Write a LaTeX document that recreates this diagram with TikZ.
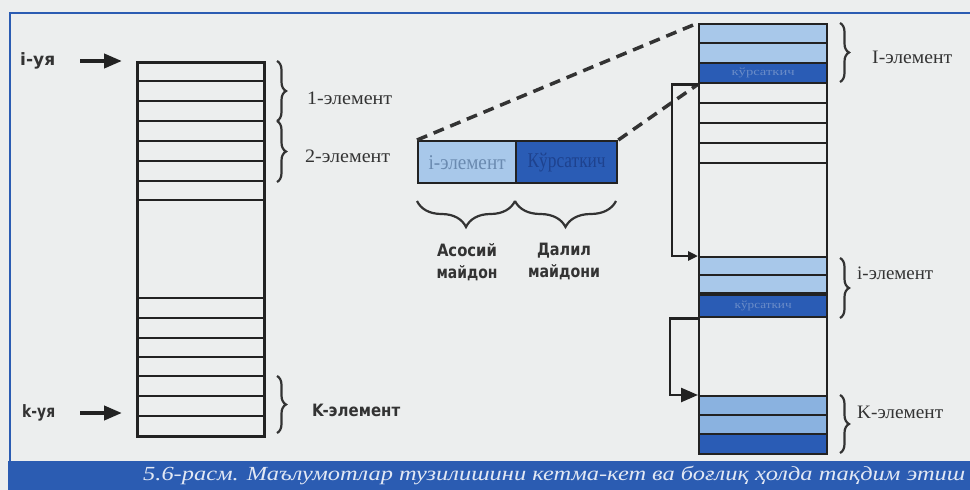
\documentclass[tikz,border=0pt]{standalone}
\usepackage{fontspec}
\setmainfont{Liberation Serif}
\newfontfamily\dvs{DejaVu Sans}
\usetikzlibrary{arrows.meta,decorations.pathreplacing,calc}
\definecolor{bg}{HTML}{ECEEEE}
\definecolor{frameblue}{HTML}{2B5CB2}
\definecolor{lightb}{HTML}{A8C8EA}
\definecolor{midb}{HTML}{8AB2E0}
\definecolor{darkb}{HTML}{2A5CB5}
\definecolor{ink}{HTML}{222222}
\definecolor{labgray}{HTML}{333333}
\definecolor{ietext}{HTML}{6A8AB0}
\definecolor{kptext}{HTML}{1E428E}
\definecolor{smalltext}{HTML}{6A8CC8}
\definecolor{captext}{HTML}{E2E8F4}
\newcommand{\fitw}[2]{\resizebox{#1}{\height}{#2}}
\begin{document}
\begin{tikzpicture}[x=1pt,y=-1pt,
  colbox/.style={draw=ink,line width=2.6pt,inner sep=0pt,anchor=north west},
  rowline/.style={draw=ink,line width=2.6pt},
  rcell/.style={draw=ink,line width=2.3pt,inner sep=0pt,anchor=north west,minimum width=128pt},
  mcell/.style={draw=ink,line width=2.3pt,inner sep=0pt,anchor=north west,minimum height=42pt},
  bigarr/.style={draw=ink,line width=4pt,-{Triangle[length=18pt,width=14pt]}},
  conn/.style={draw=ink,line width=2.5pt},
  dashl/.style={draw=labgray,line width=3.5pt,dash pattern=on 11pt off 7pt},
  vbrace/.style={draw=labgray,line width=2.2pt,decorate,decoration={brace,amplitude=9pt}},
  hbrace/.style={draw=labgray,line width=2.2pt,decorate,decoration={brace,amplitude=26pt}},
  serlab/.style={text=labgray,inner sep=0pt,anchor=west,font=\fontsize{19}{21}\selectfont},
  sanlab/.style={text=labgray,inner sep=0pt,font=\dvs\bfseries\fontsize{17}{22}\selectfont},
]
\useasboundingbox (0,0) rectangle (970,490);
\fill[bg] (0,0) rectangle (970,490);
% frame and caption band
\draw[frameblue,line width=2.6pt] (10,462) -- (10,13) -- (972,13);
\fill[frameblue] (8,461) rectangle (972,492);
\node[anchor=west,inner sep=0pt,text=captext,font=\itshape\fontsize{20}{22}\selectfont] (cap) at (143,475)
  {\fitw{822pt}{5.6-расм. Маълумотлар тузилишини кетма-кет ва боғлиқ ҳолда тақдим этиш}};

% ---------- left column ----------
\node[colbox,minimum width=127pt,minimum height=374pt] (L) at (136,61) {};
\foreach \y in {81,101,121,141,161,181,200,298,318,338,357,376,396,416}
  \draw[rowline] (136,\y) -- (263,\y);
\node[sanlab,anchor=west] (iya) at (20,61) {\fitw{35pt}{i-уя}};
\node[sanlab,anchor=west] (kya) at (22,413) {\fitw{33pt}{k-уя}};
\coordinate (ia) at (80,61);
\coordinate (ka) at (80,413);
\coordinate (kin) at (136,413);
\draw[bigarr,shorten >=14pt] (ia) -- (L.north west);
\draw[bigarr,shorten >=14pt] (ka) -- (kin);
\draw[vbrace] (277,61) -- (277,121);
\draw[vbrace] (277,121) -- (277,182);
\draw[vbrace] (277,376) -- (277,433);
\node[serlab] (e1) at (307,98) {\fitw{85pt}{1-элемент}};
\node[serlab] (e2) at (305,156) {\fitw{85pt}{2-элемент}};
\node[sanlab,anchor=west] (ek) at (312,410) {\fitw{88pt}{K-элемент}};

% ---------- middle record ----------
\node[mcell,fill=lightb,minimum width=98pt,text=ietext,font=\fontsize{21}{22}\selectfont] (ie) at (417,140) {\fitw{77pt}{i-элемент}};
\node[mcell,fill=darkb,minimum width=101pt,text=kptext,font=\fontsize{21}{22}\selectfont] (kp) at (515,140) {\fitw{78pt}{Кўрсаткич}};
\draw[hbrace] (515,201) -- (417,201);
\draw[hbrace] (616,201) -- (515,201);
\node[sanlab,align=center,anchor=north] (as) at (467,243) {\fitw{60pt}{Асосий}\\\fitw{61pt}{майдон}};
\node[sanlab,align=center,anchor=north] (da) at (564,243) {\fitw{54pt}{Далил}\\\fitw{72pt}{майдони}};

% ---------- right column ----------
\node[rcell,fill=lightb,minimum height=19pt] (R1) at (698,23) {};
\node[rcell,fill=lightb,minimum height=20pt] (R2) at (698,42) {};
\node[rcell,fill=darkb,minimum height=20pt,text=smalltext,font=\fontsize{11}{12}\selectfont] (R3) at (698,62) {\fitw{63pt}{кўрсаткич}};
\node[rcell,minimum height=20pt] (W1) at (698,82) {};
\node[rcell,minimum height=20pt] (W2) at (698,102) {};
\node[rcell,minimum height=20pt] (W3) at (698,122) {};
\node[rcell,minimum height=20pt] (W4) at (698,142) {};
\node[rcell,minimum height=94pt] (W5) at (698,162) {};
\node[rcell,fill=lightb,minimum height=18pt] (Ri1) at (698,256) {};
\node[rcell,fill=lightb,minimum height=18pt] (Ri2) at (698,274) {};
\node[rcell,fill=darkb,minimum height=22pt,text=smalltext,font=\fontsize{11}{12}\selectfont] (Ri3) at (698,294) {\fitw{57pt}{кўрсаткич}};
\node[rcell,minimum height=79pt] (W6) at (698,316) {};
\node[rcell,fill=midb,minimum height=19pt] (K1) at (698,395) {};
\node[rcell,fill=midb,minimum height=19pt] (K2) at (698,414) {};
\node[rcell,fill=darkb,minimum height=20pt] (K3) at (698,433) {};

% dashed zoom lines
\draw[dashl] (ie.north west) -- (R1.north west);
\draw[dashl] (kp.north east) -- (R3.south west);

% pointer connectors
\draw[conn,-{Triangle[length=10pt,width=9pt]}] (R3.south west) -- ++(-26,0) |- (Ri1.north west);
\draw[conn,-{Triangle[length=17pt,width=14pt]}] (Ri3.south west) -- ++(-28,0) |- (K1.north west);

% right braces and labels
\draw[vbrace] (840,23) -- (840,82);
\draw[vbrace] (840,258) -- (840,318);
\draw[vbrace] (840,395) -- (840,453);
\node[serlab] (r1) at (872,57) {\fitw{80pt}{I-элемент}};
\node[serlab] (r2) at (857,273) {\fitw{76pt}{i-элемент}};
\node[serlab] (r3) at (857,412) {\fitw{86pt}{K-элемент}};
\end{tikzpicture}
\end{document}
